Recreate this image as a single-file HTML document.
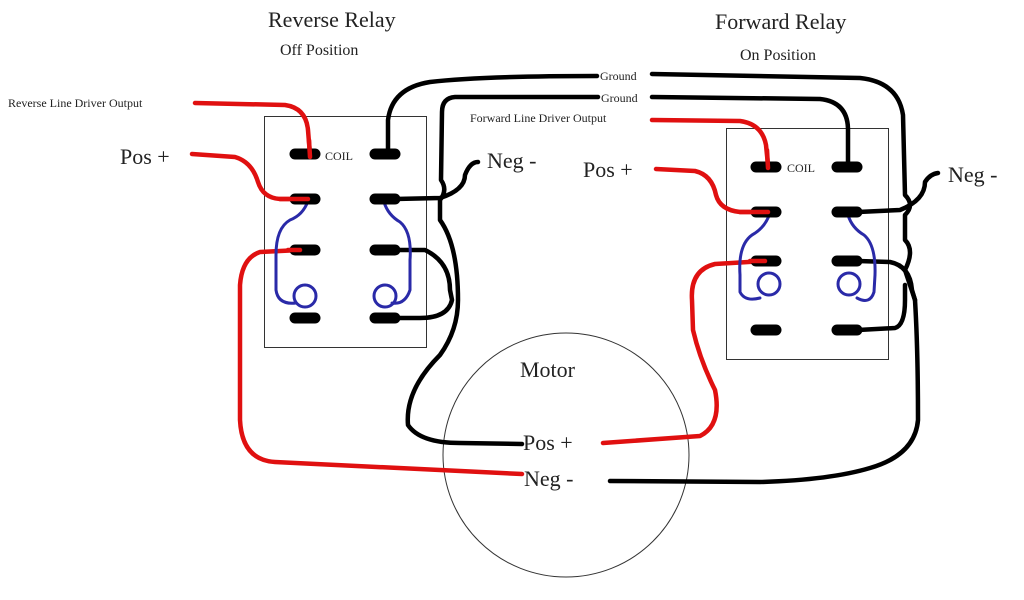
<!DOCTYPE html>
<html><head><meta charset="utf-8"><style>
html,body{margin:0;padding:0;background:#fff;width:1024px;height:600px;overflow:hidden}
svg{display:block}
svg text{font-family:"Liberation Serif","DejaVu Serif",serif !important;fill:#222}
</style></head><body>
<svg width="1024" height="600" viewBox="0 0 1024 600" xmlns="http://www.w3.org/2000/svg" font-family="Liberation Serif, serif">
<rect width="1024" height="600" fill="#fff"/>
<g font-family="Liberation Serif, serif">
<text x="268" y="27" font-size="22">Reverse Relay</text>
<text x="280" y="55" font-size="16">Off Position</text>
<text x="715" y="29" font-size="22">Forward Relay</text>
<text x="740" y="60" font-size="16">On Position</text>
<text x="8" y="107" font-size="12">Reverse Line Driver Output</text>
<text x="120" y="164" font-size="22">Pos +</text>
<text x="487" y="168" font-size="22">Neg -</text>
<text x="600" y="80" font-size="12">Ground</text>
<text x="601" y="102" font-size="12">Ground</text>
<text x="470" y="122" font-size="12">Forward Line Driver Output</text>
<text x="583" y="177" font-size="22">Pos +</text>
<text x="948" y="182" font-size="22">Neg -</text>
<text x="325" y="160" font-size="12">COIL</text>
<text x="787" y="172" font-size="12">COIL</text>
<text x="520" y="377" font-size="22">Motor</text>
<text x="523" y="450" font-size="22">Pos +</text>
<text x="524" y="486" font-size="22">Neg -</text>
</g>

<rect x="264.5" y="116.5" width="162" height="231" fill="none" stroke="#333" stroke-width="1"/>
<rect x="726.5" y="128.5" width="162" height="231" fill="none" stroke="#333" stroke-width="1"/>
<ellipse cx="566" cy="455" rx="123" ry="122" fill="none" stroke="#333" stroke-width="1"/>

<g fill="none" stroke-linecap="round" stroke-linejoin="round">
<g stroke="#000" stroke-width="4.5">
<path d="M388 155 L388 120 Q392 88 430 82 Q480 76 597 76"/>
<path d="M652 74 L860 78 Q898 82 903 115 L905 195 Q915 205 905 215 L905 240 Q915 250 905 270 L915 300 Q918 350 918 420 Q915 455 870 468 Q830 480 760 482 L610 481"/>
<path d="M598 97 L455 97 Q442 98 442 112 L441 180 Q448 190 440 200 L440 220 Q458 245 458 300 Q458 330 440 355 Q405 390 408 425 Q420 443 460 443 L522 444"/>
<path d="M652 97 L820 99 Q848 102 848 130 L848 163"/>
<path d="M395 199 L440 198 Q465 190 465 175 Q470 162 478 162"/>
<path d="M395 250 L425 250 Q450 262 450 290 L452 300 Q448 318 420 318 L395 318"/>
<path d="M858 212 L900 210 Q925 200 925 182 Q930 174 938 173"/>
<path d="M858 261 L890 262 Q910 266 912 290 L915 300"/>
<path d="M858 330 L895 328 Q905 325 905 300 L905 285"/>
</g>
<g stroke="#e01010" stroke-width="4.5">
<path d="M195 103 L285 105 Q306 108 308 130 L310 155"/>
<path d="M192 154 L235 157 Q252 162 258 182 Q263 198 280 199 L310 199"/>
<path d="M300 250 L260 252 Q242 258 240 285 L240 420 Q242 460 275 462 L522 474"/>
<path d="M652 120 L740 121 Q762 124 766 145 L768 165"/>
<path d="M656 169 L695 171 Q712 175 716 195 Q720 210 740 212 L770 212"/>
<path d="M765 261 L715 264 Q690 270 692 300 L693 330 Q700 360 715 390 Q722 425 700 436 L603 443"/>
</g>
<g stroke="#2a2aa8" stroke-width="3">
<path d="M308 201 Q303 215 290 220 Q276 228 276 255 L276 290 Q278 305 296 303"/>
<circle cx="305" cy="296" r="11"/>
<path d="M384 202 Q388 215 400 222 Q412 232 410 260 L410 290 Q405 305 392 303"/>
<circle cx="385" cy="296" r="11"/>
<path d="M770 213 Q765 228 752 235 Q738 245 740 275 L740 292 Q745 302 760 298"/>
<circle cx="769" cy="284" r="11"/>
<path d="M848 215 Q852 228 864 235 Q876 245 875 275 L874 292 Q870 305 857 298"/>
<circle cx="849" cy="284" r="11"/>
</g>
</g>
<g stroke="#000" stroke-width="11" stroke-linecap="round">
<line x1="295" y1="154" x2="315" y2="154"/><line x1="375" y1="154" x2="395" y2="154"/>
<line x1="295" y1="199" x2="315" y2="199"/><line x1="375" y1="199" x2="395" y2="199"/>
<line x1="295" y1="250" x2="315" y2="250"/><line x1="375" y1="250" x2="395" y2="250"/>
<line x1="295" y1="318" x2="315" y2="318"/><line x1="375" y1="318" x2="395" y2="318"/>
<line x1="756" y1="167" x2="776" y2="167"/><line x1="837" y1="167" x2="857" y2="167"/>
<line x1="756" y1="212" x2="776" y2="212"/><line x1="837" y1="212" x2="857" y2="212"/>
<line x1="756" y1="261" x2="776" y2="261"/><line x1="837" y1="261" x2="857" y2="261"/>
<line x1="756" y1="330" x2="776" y2="330"/><line x1="837" y1="330" x2="857" y2="330"/>
</g>
<g stroke="#e01010" stroke-width="4.5" stroke-linecap="round" fill="none">
<path d="M309 140 L310 157"/><path d="M280 199 L308 199"/>
<path d="M767 150 L768 168"/><path d="M740 212 L768 212"/>
<path d="M300 250 L288 250"/><path d="M765 261 L750 261"/>
</g>
</svg>
</body></html>
